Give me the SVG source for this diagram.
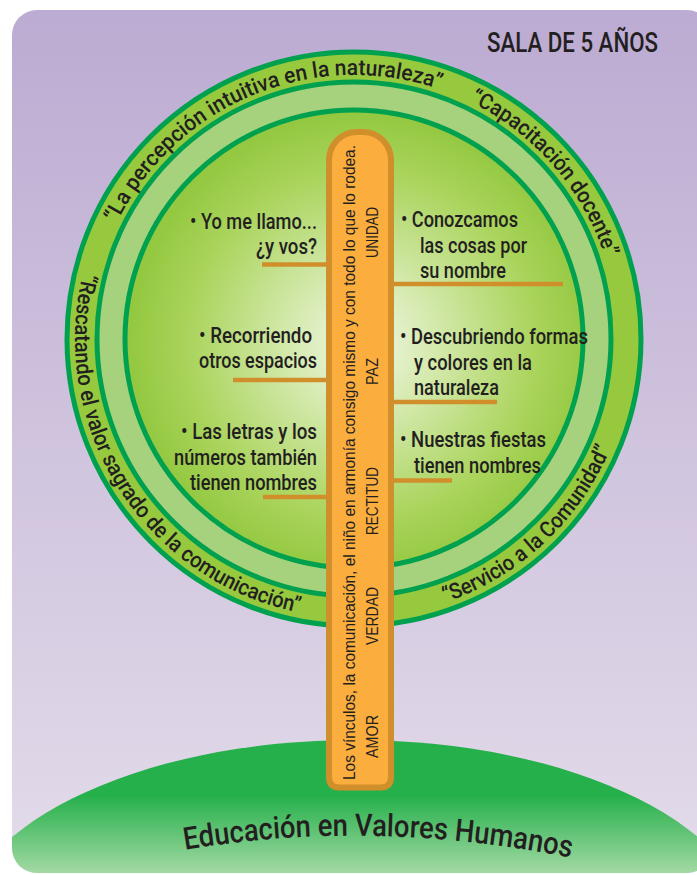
<svg xmlns="http://www.w3.org/2000/svg" width="697" height="875" viewBox="0 0 697 875">
<style>
.ring{fill:none;stroke:#00a14e;stroke-width:5}
.arc{font-family:Roboto,"Liberation Sans",sans-serif;font-weight:500;font-size:22px;fill:#231f20}
.lbl{font-family:Roboto,"Liberation Sans",sans-serif;font-weight:500;font-size:22px;fill:#231f20}
.sala{font-family:Roboto,"Liberation Sans",sans-serif;font-weight:500;font-size:27px;fill:#231f20}
.hilltxt{font-family:Roboto,"Liberation Sans",sans-serif;font-weight:500;font-size:31px;fill:#231f20}
.trk{font-family:"Liberation Sans",Arial,sans-serif;font-size:16px;fill:#231f20}
.val{font-family:"Liberation Sans",Arial,sans-serif;font-size:17px;fill:#231f20}
.br{stroke:#d18f2c;stroke-width:4.5;fill:none}
</style>
<defs>
<linearGradient id="bgG" x1="0" y1="0" x2="0" y2="1">
<stop offset="0" stop-color="#bcabd2"/>
<stop offset="1" stop-color="#e3dcea"/>
</linearGradient>
<linearGradient id="hillG" gradientUnits="userSpaceOnUse" x1="0" y1="795" x2="0" y2="875">
<stop offset="0" stop-color="#25b04b"/>
<stop offset="1" stop-color="#a6daa6"/>
</linearGradient>
<radialGradient id="inG" gradientUnits="userSpaceOnUse" cx="362" cy="345" r="232">
<stop offset="0" stop-color="#f1f7e6"/>
<stop offset="0.3" stop-color="#d6eab0"/>
<stop offset="0.75" stop-color="#aad45c"/>
<stop offset="1" stop-color="#93c840"/>
</radialGradient>
<clipPath id="bgClip"><rect x="12" y="10" width="700" height="863" rx="25"/></clipPath>
<path id="p1" d="M90.25 350.52 A264 264 0 0 1 548.64 160.64"/>
<path id="p2" d="M303.63 79.85 A264 264 0 0 1 603.62 424.95"/>
<path id="p3" d="M272.43 605.81 A279 279 0 0 0 625.85 276.24"/>
<path id="p4" d="M132.66 169.16 A279 279 0 0 0 414.39 611.39"/>
<path id="p5" d="M184 850 Q372 818 572 858"/>
</defs>

<g id="background">
<rect x="12" y="10" width="700" height="863" rx="25" fill="url(#bgG)"/>
<text x="487" y="52" class="sala" textLength="171" lengthAdjust="spacingAndGlyphs">SALA DE 5 AÑOS</text>
</g>

<g id="hill" clip-path="url(#bgClip)">
<ellipse cx="355" cy="940" rx="400" ry="200" fill="url(#hillG)"/>
<text class="hilltxt"><textPath href="#p5" startOffset="50%" text-anchor="middle" textLength="388" lengthAdjust="spacingAndGlyphs">Educación en Valores Humanos</textPath></text>
</g>

<g id="crown">
<circle cx="354" cy="339" r="287" fill="#97c93e"/>
<circle cx="354" cy="339" r="257" fill="#a6d27d"/>
<circle cx="354" cy="339" r="229" fill="url(#inG)"/>
<circle cx="354" cy="339" r="287" class="ring"/>
<circle cx="354" cy="339" r="257" class="ring"/>
<circle cx="354" cy="339" r="229" class="ring"/>
</g>

<g id="ring-labels">
<g id="ring-percepcion"><text class="arc"><textPath href="#p1" startOffset="50%" text-anchor="middle" textLength="382" lengthAdjust="spacingAndGlyphs">“La percepción intuitiva en la naturaleza”</textPath></text></g>
<g id="ring-capacitacion"><text class="arc"><textPath href="#p2" startOffset="50%" text-anchor="middle" textLength="212" lengthAdjust="spacingAndGlyphs">“Capacitación docente”</textPath></text></g>
<g id="ring-servicio"><text class="arc"><textPath href="#p3" startOffset="50%" text-anchor="middle" textLength="232" lengthAdjust="spacingAndGlyphs">“Servicio a la Comunidad”</textPath></text></g>
<g id="ring-rescatando"><text class="arc"><textPath href="#p4" startOffset="50%" text-anchor="middle" textLength="450" lengthAdjust="spacingAndGlyphs">“Rescatando el valor sagrado de la comunicación”</textPath></text></g>
</g>

<g id="connectors">
<line class="br" x1="262" y1="264.5" x2="330" y2="264.5"/>
<line class="br" x1="233" y1="380" x2="330" y2="380"/>
<line class="br" x1="263" y1="497" x2="330" y2="497"/>
<line class="br" x1="390" y1="284" x2="563" y2="284"/>
<line class="br" x1="390" y1="402" x2="497" y2="402"/>
<line class="br" x1="390" y1="480.5" x2="452" y2="480.5"/>
</g>

<g id="trunk">
<path d="M329 160 A28 28 0 0 1 357 132 H363 A28 28 0 0 1 391 160 V777 Q391 787.5 380.5 787.5 H339.5 Q329 787.5 329 777 Z" fill="#fbad3e" stroke="#d18f2c" stroke-width="6"/>
<text class="trk" transform="translate(355 780) rotate(-90)" textLength="635" lengthAdjust="spacingAndGlyphs">Los vínculos, la comunicación, el niño en armonía consigo mismo y con todo lo que lo rodea.</text>
<text class="val" transform="translate(378 758) rotate(-90)" textLength="43" lengthAdjust="spacingAndGlyphs">AMOR</text>
<text class="val" transform="translate(378 645) rotate(-90)" textLength="58" lengthAdjust="spacingAndGlyphs">VERDAD</text>
<text class="val" transform="translate(378 535) rotate(-90)" textLength="68" lengthAdjust="spacingAndGlyphs">RECTITUD</text>
<text class="val" transform="translate(378 385) rotate(-90)" textLength="27" lengthAdjust="spacingAndGlyphs">PAZ</text>
<text class="val" transform="translate(378 258) rotate(-90)" textLength="51" lengthAdjust="spacingAndGlyphs">UNIDAD</text>
</g>

<g id="node-yo-me-llamo">
<text class="lbl" x="190" y="229" textLength="127" lengthAdjust="spacingAndGlyphs">• Yo me llamo...</text>
<text class="lbl" x="256" y="254" textLength="61" lengthAdjust="spacingAndGlyphs">¿y vos?</text>
</g>
<g id="node-recorriendo">
<text class="lbl" x="199" y="343" textLength="113" lengthAdjust="spacingAndGlyphs">• Recorriendo</text>
<text class="lbl" x="199" y="368" textLength="118" lengthAdjust="spacingAndGlyphs">otros espacios</text>
</g>
<g id="node-letras">
<text class="lbl" x="181" y="439" textLength="136" lengthAdjust="spacingAndGlyphs">• Las letras y los</text>
<text class="lbl" x="174" y="465" textLength="143" lengthAdjust="spacingAndGlyphs">números también</text>
<text class="lbl" x="190" y="490" textLength="127" lengthAdjust="spacingAndGlyphs">tienen nombres</text>
</g>
<g id="node-conozcamos">
<text class="lbl" x="401" y="227" textLength="117" lengthAdjust="spacingAndGlyphs">• Conozcamos</text>
<text class="lbl" x="420" y="253" textLength="107" lengthAdjust="spacingAndGlyphs">las cosas por</text>
<text class="lbl" x="420" y="278" textLength="86" lengthAdjust="spacingAndGlyphs">su nombre</text>
</g>
<g id="node-descubriendo">
<text class="lbl" x="400" y="344" textLength="188" lengthAdjust="spacingAndGlyphs">• Descubriendo formas</text>
<text class="lbl" x="414" y="370" textLength="118" lengthAdjust="spacingAndGlyphs">y colores en la</text>
<text class="lbl" x="414" y="395" textLength="85" lengthAdjust="spacingAndGlyphs">naturaleza</text>
</g>
<g id="node-fiestas">
<text class="lbl" x="400" y="447" textLength="146" lengthAdjust="spacingAndGlyphs">• Nuestras fiestas</text>
<text class="lbl" x="414" y="473" textLength="127" lengthAdjust="spacingAndGlyphs">tienen nombres</text>
</g>
</svg>
